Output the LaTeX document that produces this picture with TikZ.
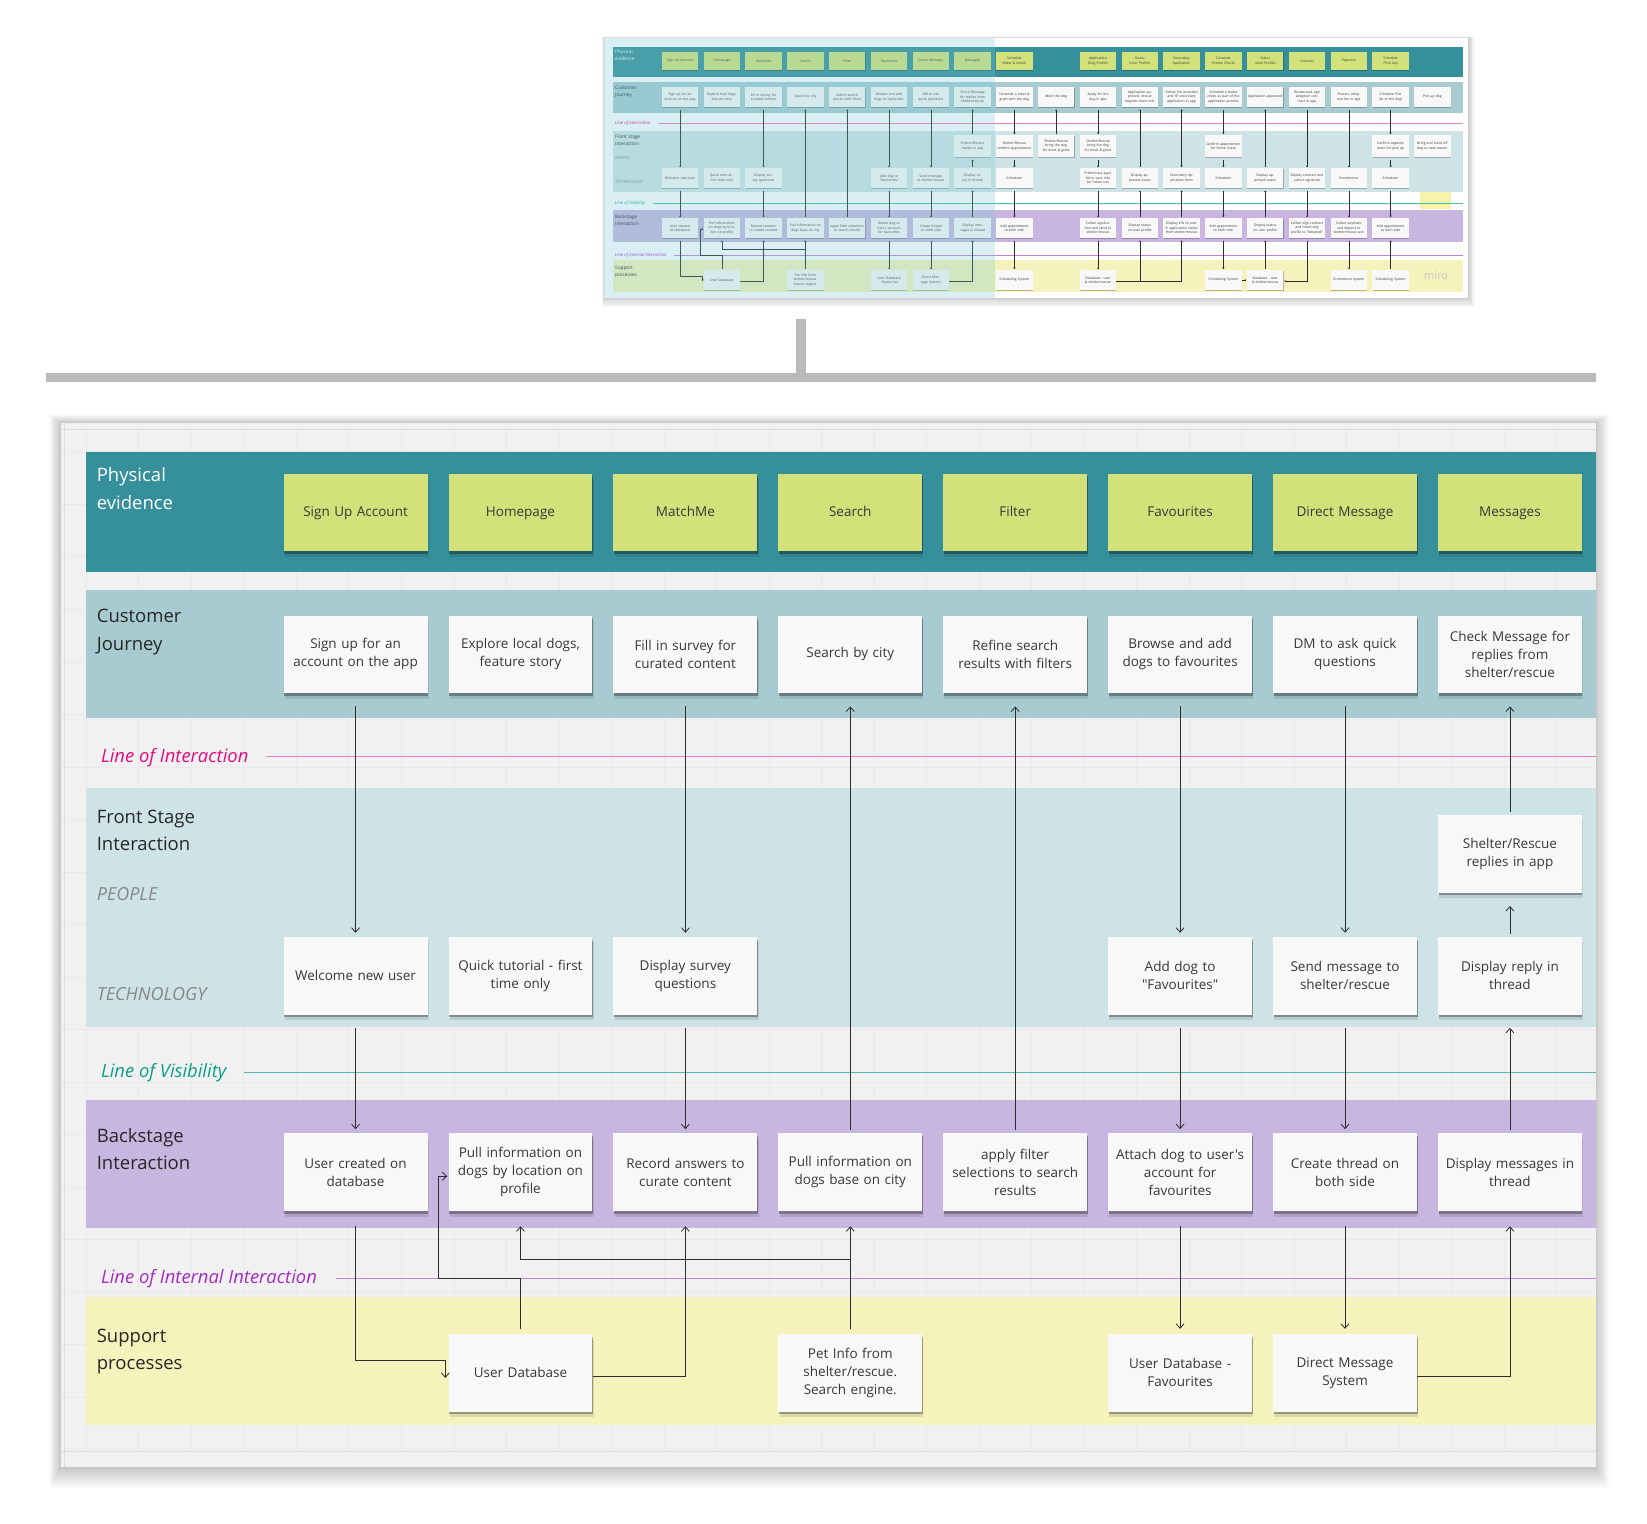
\documentclass[tikz,border=0pt]{standalone}
\usepackage{fontspec}
\setmainfont{Open Sans}[Ligatures=TeXOff]
\usetikzlibrary{arrows.meta,shadows}
\definecolor{peLane}{RGB}{54,144,155}
\definecolor{peNote}{RGB}{210,225,122}
\definecolor{cjLane}{RGB}{167,203,209}
\definecolor{fsLane}{RGB}{206,227,230}
\definecolor{bsLane}{RGB}{200,182,224}
\definecolor{spLane}{RGB}{246,242,188}
\definecolor{panelBg}{RGB}{241,241,241}
\definecolor{gridC}{RGB}{233,233,233}
\definecolor{noteW}{RGB}{248,248,248}
\definecolor{txt}{RGB}{55,55,55}
\definecolor{liPink}{RGB}{230,10,128}
\definecolor{liPinkLine}{RGB}{238,125,185}
\definecolor{lvGreen}{RGB}{10,160,136}
\definecolor{lvLine}{RGB}{80,185,170}
\definecolor{liPurple}{RGB}{165,44,194}
\definecolor{liPurpleLine}{RGB}{198,128,216}
\definecolor{barGray}{RGB}{186,186,188}
\definecolor{lblGray}{RGB}{135,135,135}
\definecolor{tintC}{RGB}{120,200,212}
\definecolor{connC}{RGB}{45,45,45}
\begin{document}
\begin{tikzpicture}[x=1.0504pt,y=-1.0504pt,
  note/.style={fill=noteW, minimum width=143.9pt, minimum height=77.7pt, text width=138pt,
    align=center, inner sep=0pt, text=txt, font=\fontsize{13.5}{18}\selectfont,
    general shadow={shadow xshift=0.6pt, shadow yshift=-2.6pt, fill=black, opacity=0.3},
    general shadow={shadow xshift=1.2pt, shadow yshift=-5.5pt, fill=black, opacity=0.1}},
  penote/.style={note, fill=peNote},
  lanelbl/.style={anchor=north west, align=left, inner sep=0pt, text=black!85,
    font=\fontsize{18.5}{27.5}\selectfont},
  sublbl/.style={anchor=west, inner sep=0pt, text=lblGray, font=\fontsize{18}{22}\selectfont\itshape},
  linelbl/.style={anchor=west, inner sep=0pt, font=\fontsize{18.4}{22}\selectfont\itshape},
  conn/.style={draw=connC, line width=0.8pt, -{Straight Barb[length=4.5pt,width=8pt]}},
  mdown/.style={conn, shorten <=13pt, shorten >=4pt},
  mup/.style={conn, shorten <=3pt, shorten >=13pt},
  tnote/.style={fill=noteW, minimum width=36.4pt, minimum height=19.7pt, text width=34.9pt,
    align=center, inner sep=0.2pt, text=txt, font=\fontsize{3.4}{4.5}\selectfont,
    general shadow={shadow xshift=0.2pt, shadow yshift=-0.8pt, fill=black, opacity=0.25}},
  tpe/.style={tnote, fill=peNote, minimum height=18pt},
  tlanelbl/.style={anchor=north west, align=left, inner sep=0pt, text=black!85,
    font=\fontsize{4.7}{6.5}\selectfont},
  tsublbl/.style={anchor=west, inner sep=0pt, text=lblGray, font=\fontsize{4.4}{5.5}\selectfont\itshape},
  tlinelbl/.style={anchor=west, inner sep=0pt, font=\fontsize{4.4}{5.5}\selectfont\itshape},
  tconn/.style={draw=connC, line width=0.3pt, -{Straight Barb[length=1.3pt,width=2.2pt]}},
  tboth/.style={draw=connC, line width=0.3pt, {Straight Barb[length=1.3pt,width=2.2pt]}-{Straight Barb[length=1.3pt,width=2.2pt]}, shorten <=0.8pt, shorten >=2.5pt},
  tdown/.style={tconn, shorten <=2.5pt, shorten >=0.8pt},
  tup/.style={tconn, shorten <=0.8pt, shorten >=2.5pt}
]
\useasboundingbox (0,0) rectangle (1568,1450);
\fill[white] (0,0) rectangle (1568,1450);

%% ================= THUMBNAIL (full-size pixel units) =================
\begin{scope}[x=1pt,y=-1pt]
  \foreach \k in {1,...,8}
    \fill[black,opacity=0.025] ({605-\k*0.4},{38-\k*0.2}) rectangle ({1468+\k*0.9},{298+\k*1.1});
  \fill[white] (605,38) rectangle (1468,298);
  % lanes
  \fill[peLane] (613,47) rectangle (1463,77);
  \fill[cjLane] (613,82) rectangle (1463,113);
  \fill[fsLane] (613,131) rectangle (1463,192);
  \fill[bsLane] (613,210) rectangle (1463,242);
  \fill[spLane] (613,260) rectangle (1463,292);
  \fill[spLane!90!yellow] (1420,192) rectangle (1451,209);
  % lines
  \node[tlinelbl, text=liPink] (tLoi) at (615,123) {Line of interaction};
  \draw[liPinkLine, line width=0.4pt] (658,123) -- (1463,123);
  \node[tlinelbl, text=lvGreen] (tLov) at (615,203) {Line of Visibility};
  \draw[lvLine, line width=0.6pt] (653,203) -- (1463,203);
  \node[tlinelbl, text=liPurple] (tLii) at (615,255) {Line of internal interaction};
  \draw[liPurpleLine, line width=0.4pt] (674,255) -- (1463,255);
  % lane labels
  \node[tlanelbl, text=white] (tlPE) at (615,50) {Physical\\evidence};
  \node[tlanelbl] (tlCJ) at (615,86) {Customer\\Journey};
  \node[tlanelbl] (tlFS) at (615,135) {Front Stage\\Interaction};
  \node[tsublbl] (tlPP) at (615,158) {PEOPLE};
  \node[tsublbl] (tlTP) at (615,182) {TECHNOLOGY};
  \node[tlanelbl] (tlBS) at (615,215) {Backstage\\Interaction};
  \node[tlanelbl] (tlSP) at (615,266) {Support\\processes};
  % notes
  \foreach \i/\t in {1/{Sign Up Account},2/Homepage,3/MatchMe,4/Search,5/Filter,6/Favourites,
      7/{Direct Message},8/Messages,9/{Schedule\\(Meet \& Greet)},11/{Application\\(Dog Profile)},
      12/{Status\\(User Profile)},13/{Secondary\\Application},14/{Schedule\\(Home Check)},
      15/{Status\\(User Profile)},16/Contract,17/Payment,18/{Schedule\\(Pick Up)}}
    \node[tpe] (Ta\i) at ({680+41.8*(\i-1)},61) {\t};
  \foreach \i/\t in {1/{Sign up for an account on the app},2/{Explore local dogs, feature story},
      3/{Fill in survey for curated content},4/{Search by city},5/{Refine search results with filters},
      6/{Browse and add dogs to favourites},7/{DM to ask quick questions},
      8/{Check Message for replies from shelter/rescue},9/{Schedule a meet \& greet with the dog},
      10/{Meet the dog},11/{Apply for the dog in app},12/{Application approved, rescue requires more info},
      13/{Follow link provided and fill secondary application in app},
      14/{Schedule a home check as part of the application process},15/{Application approved!},
      16/{Review and sign adoption contract in app},17/{Process adoption fee in app},
      18/{Schedule Pick Up of the dog!},19/{Pick up dog}}
    \node[tnote] (Tj\i) at ({680+41.8*(\i-1)},97) {\t};
  \foreach \i/\t in {8/{Shelter/Rescue replies in app},9/{Shelter/Rescue confirm appointment},
      10/{Shelter/Rescue bring the dog for meet \& greet},11/{Shelter/Rescue bring the dog for meet \& greet},
      14/{Confirm appointment for home check},18/{Confirm appointment for pick up},
      19/{Bring and hand off dog to new owner!}}
    \node[tnote, minimum height=22pt] (Tp\i) at ({680+41.8*(\i-1)},146) {\t};
  \foreach \i/\t in {1/{Welcome new user},2/{Quick tutorial - first time only},3/{Display survey questions},
      6/{Add dog to "Favourites"},7/{Send message to shelter/rescue},8/{Display reply in thread},
      9/{Scheduler},11/{Preliminary appl. form, save info for future use},12/{Display approved status},
      13/{Secondary Application form},14/{Scheduler},15/{Display approved status},
      16/{Display contract and collect signature},17/{Ecommerce},18/{Scheduler}}
    \node[tnote] (Tt\i) at ({680+41.8*(\i-1)},178) {\t};
  \foreach \i/\t in {1/{User created on database},2/{Pull information on dogs by location on profile},
      3/{Record answers to curate content},4/{Pull information on dogs base on city},
      5/{apply filter selections to search results},6/{Attach dog to user's account for favourites},
      7/{Create thread on both side},8/{Display messages in thread},9/{Add appointment to both side},
      11/{Collect application and send to shelter/rescue},12/{Display status on user profile},
      13/{Display link to user in application status from shelter/rescue},14/{Add appointment to both side},
      15/{Display status on user profile},16/{Collect sign contract and move dog profile to "Adopted"},
      17/{Collect payment and deposit to shelter/rescue acct},18/{Add appointment to both side}}
    \node[tnote] (Tb\i) at ({680+41.8*(\i-1)},228) {\t};
  \foreach \i/\t in {2/{User Database},4/{Pet Info from shelter/rescue. Search engine.},
      6/{User Database - Favourites},7/{Direct Message System},9/{Scheduling System},
      11/{Database - user \& shelter/rescue},14/{Scheduling System},15/{Database - user \& shelter/rescue},
      17/{Ecommerce system},18/{Scheduling System}}
    \node[tnote] (Ts\i) at ({680+41.8*(\i-1)},280) {\t};
  \node[text=black!22, font=\fontsize{11}{12}\selectfont, inner sep=0pt] (tMiro) at (1436,276) {miro};
  % connectors
  \draw[tdown] (Tj1.south) -- (Tt1.north);
  \draw[tdown] (Tt1.south) -- (Tb1.north);
  \draw[tconn] ([yshift=-2.5pt]Tb1.south) |- ([xshift=-1pt,yshift=4pt]Ts2.west) -- ([xshift=-1pt,yshift=-1pt]Ts2.west);
  \draw[tconn] ([yshift=1pt]Ts2.north) -- (Ts2.north |- 0,255) -- (700,255) |- ([xshift=-0.4pt,yshift=-1pt]Tb2.west);
  \draw[tdown] (Tj3.south) -- (Tt3.north);
  \draw[tdown] (Tt3.south) -- (Tb3.north);
  \draw[tconn] ([yshift=-1pt]Ts2.east) -| ([yshift=-2.5pt]Tb3.south);
  \draw[tup] (Tb4.north) -- (Tj4.south);
  \draw[tconn] ([yshift=1pt]Ts4.north) -- ([yshift=-2.5pt]Tb4.south);
  \draw[tconn] (Ts4.north |- 0,249) -| ([yshift=-2.5pt]Tb2.south);
  \draw[tup] (Tb5.north) -- (Tj5.south);
  \foreach \i in {6,7} {
    \draw[tdown] (Tj\i.south) -- (Tt\i.north);
    \draw[tdown] (Tt\i.south) -- (Tb\i.north);
    \draw[tdown] (Tb\i.south) -- (Ts\i.north);}
  \draw[tconn] ([yshift=-1pt]Ts7.east) -| ([yshift=-2.5pt]Tb8.south);
  \draw[tup] (Tb8.north) -- (Tt8.south);
  \draw[tup] (Tt8.north) -- (Tp8.south);
  \draw[tup] (Tp8.north) -- (Tj8.south);
  \foreach \i in {9,11,14} {
    \draw[tdown] (Tj\i.south) -- (Tp\i.north);
    \draw[tdown] (Tp\i.south) -- (Tt\i.north);
    \draw[tdown] (Tt\i.south) -- (Tb\i.north);
    \draw[tdown] (Tb\i.south) -- (Ts\i.north);}
  \draw[tup] (Tp10.north) -- (Tj10.south);
  \foreach \i in {12,15} {
    \draw[tup] (Tt\i.north) -- (Tj\i.south);
    \draw[tup] (Tb\i.north) -- (Tt\i.south);}
  \draw[tconn] ([yshift=-1pt]Ts11.east) -| ([yshift=-2.5pt]Tb12.south);
  \draw[tconn] ([yshift=-1pt]Ts11.east) -| ([yshift=-2.5pt]Tb13.south);
  \draw[tboth] (Tt13.north) -- (Tj13.south);
  \draw[tup] (Tb13.north) -- (Tt13.south);
  \draw[tup] (Ts15.north) -- (Tb15.south);
  \draw[tconn, shorten <=0.5pt, shorten >=0.5pt] (Ts14.east) -- (Ts15.west);
  \draw[tdown] (Tj16.south) -- (Tt16.north);
  \draw[tdown] (Tt16.south) -- (Tb16.north);
  \draw[tconn] ([yshift=-2.5pt]Tb16.south) |- ([xshift=0.8pt,yshift=-1pt]Ts15.east);
  \draw[tdown] (Tj17.south) -- (Tt17.north);
  \draw[tdown] (Tt17.south) -- (Tb17.north);
  \draw[tdown] (Tb17.south) -- (Ts17.north);
  \draw[tdown] (Tj18.south) -- (Tp18.north);
  \draw[tdown] (Tp18.south) -- (Tt18.north);
  \draw[tdown] (Tt18.south) -- (Tb18.north);
  \draw[tup] (Ts18.north) -- (Tb18.south);
  % highlight tint over the zoomed part
  \fill[tintC, opacity=0.28] (605,38) rectangle (995,298);
\end{scope}

%% ================= CONNECTOR BAR =================
\fill[barGray] (758,304) rectangle (767,358);
\fill[barGray] (44,355) rectangle (1519,364);

%% ================= MAIN PANEL =================
\foreach \k in {1,...,14}
  \fill[black,opacity=0.016] ({58-\k*0.8},{403-\k*0.6}) rectangle ({1519+\k*0.9},{1397+\k*1.4});
\fill[panelBg] (58,403) rectangle (1519,1397);
\begin{scope}
  \clip (58,409) rectangle (1519,1382);
  \foreach \gx in {82,132,...,1519} \draw[gridC, line width=0.5pt] (\gx,409) -- (\gx,1382);
  \foreach \gy in {430,480,...,1382} \draw[gridC, line width=0.5pt] (58,\gy) -- (1519,\gy);
\end{scope}
\draw[black!14, line width=0.6pt] (58,409) -- (1519,409);
\draw[black!14, line width=0.6pt] (58,1382) -- (1519,1382);
\draw[black!14, line width=0.6pt] (61,403) -- (61,1397);

% lanes
\fill[peLane] (82,430) rectangle (1519,545);
\fill[cjLane] (82,562) rectangle (1519,684);
\fill[fsLane] (82,750) rectangle (1519,978);
\fill[bsLane] (82,1047) rectangle (1519,1169);
\fill[spLane] (82,1235) rectangle (1519,1357);

% lines
\node[linelbl, text=liPink] (loi) at (96,721) {Line of Interaction};
\draw[liPinkLine, line width=1.1pt] (253,720) -- (1519,720);
\node[linelbl, text=lvGreen] (lov) at (96,1021) {Line of Visibility};
\draw[lvLine, line width=1.1pt] (232,1021) -- (1519,1021);
\node[linelbl, text=liPurple] (lii) at (96,1217) {Line of Internal Interaction};
\draw[liPurpleLine, line width=1.1pt] (320,1217) -- (1519,1217);

% lane labels
\node[lanelbl, text=white] (lblPE) at (92,445) {Physical\\evidence};
\node[lanelbl] (lblCJ) at (92,580) {Customer\\Journey};
\node[lanelbl] (lblFS) at (92,771) {Front Stage\\Interaction};
\node[sublbl] (lblPP) at (92,851) {PEOPLE};
\node[sublbl] (lblTP) at (92,946) {TECHNOLOGY};
\node[lanelbl] (lblBS) at (92,1074) {Backstage\\Interaction};
\node[lanelbl] (lblSP) at (92,1265) {Support\\processes};

% notes
\foreach \i/\t in {1/{Sign Up Account},2/Homepage,3/MatchMe,4/Search,5/Filter,6/Favourites,
    7/{Direct Message},8/Messages}
  \node[penote] (pe\i) at ({338.5+157*(\i-1)},488) {\strut\t};
\foreach \i/\t in {1/{Sign up for an\\account on the app},2/{Explore local dogs,\\feature story},
    3/{Fill in survey for\\curated content},4/{Search by city},5/{Refine search\\results with filters},
    6/{Browse and add\\dogs to favourites},7/{DM to ask quick\\questions},
    8/{Check Message for\\replies from\\shelter/rescue}}
  \node[note] (cj\i) at ({338.5+157*(\i-1)},623) {\t};
\node[note] (pp8) at (1437.5,813) {Shelter/Rescue\\replies in app};
\foreach \i/\t in {1/{Welcome new user},2/{Quick tutorial - first\\time only},3/{Display survey\\questions},
    6/{Add dog to\\"Favourites"},7/{Send message to\\shelter/rescue},8/{Display reply in\\thread}}
  \node[note] (tp\i) at ({338.5+157*(\i-1)},929) {\t};
\foreach \i/\t in {1/{User created on\\database},2/{Pull information on\\dogs by location on\\profile},
    3/{Record answers to\\curate content},4/{Pull information on\\dogs base on city},
    5/{apply filter\\selections to search\\results},6/{Attach dog to user's\\account for\\favourites},
    7/{Create thread on\\both side},8/{Display messages in\\thread}}
  \node[note] (bs\i) at ({338.5+157*(\i-1)},1116) {\t};
\foreach \i/\t in {2/{User Database},4/{Pet Info from\\shelter/rescue.\\Search engine.},
    6/{User Database -\\Favourites},7/{Direct Message\\System}}
  \node[note] (sp\i) at ({338.5+157*(\i-1)},1307) {\t};

% connectors
\draw[mdown] (cj1.south) -- (tp1.north);
\draw[mdown] (tp1.south) -- (bs1.north);
\draw[conn] ([yshift=-15pt]bs1.south) |- ([xshift=-3pt,yshift=12.6pt]sp2.west) -- ([xshift=-3pt,yshift=-5pt]sp2.west);
\draw[conn] ([yshift=5pt]sp2.north) -- (sp2.north |- 0,1217) -- (417,1217) |- ([xshift=-1pt,yshift=-4pt]bs2.west);
\draw[conn] ([yshift=-4pt]sp2.east) -| ([yshift=-15pt]bs3.south);
\draw[mdown] (cj3.south) -- (tp3.north);
\draw[mdown] (tp3.south) -- (bs3.north);
\draw[mup] (bs4.north) -- (cj4.south);
\draw[conn] ([yshift=5pt]sp4.north) -- ([yshift=-15pt]bs4.south);
\draw[conn] (sp4.north |- 0,1199) -| ([yshift=-15pt]bs2.south);
\draw[mup] (bs5.north) -- (cj5.south);
\foreach \i in {6,7} {
  \draw[mdown] (cj\i.south) -- (tp\i.north);
  \draw[mdown] (tp\i.south) -- (bs\i.north);
  \draw[conn, shorten <=15pt, shorten >=5pt] (bs\i.south) -- (sp\i.north);}
\draw[conn] ([yshift=-4pt]sp7.east) -| ([yshift=-15pt]bs8.south);
\draw[mup] (bs8.north) -- (tp8.south);
\draw[mup] (tp8.north) -- (pp8.south);
\draw[mup] (pp8.north) -- (cj8.south);
\end{tikzpicture}
\end{document}
